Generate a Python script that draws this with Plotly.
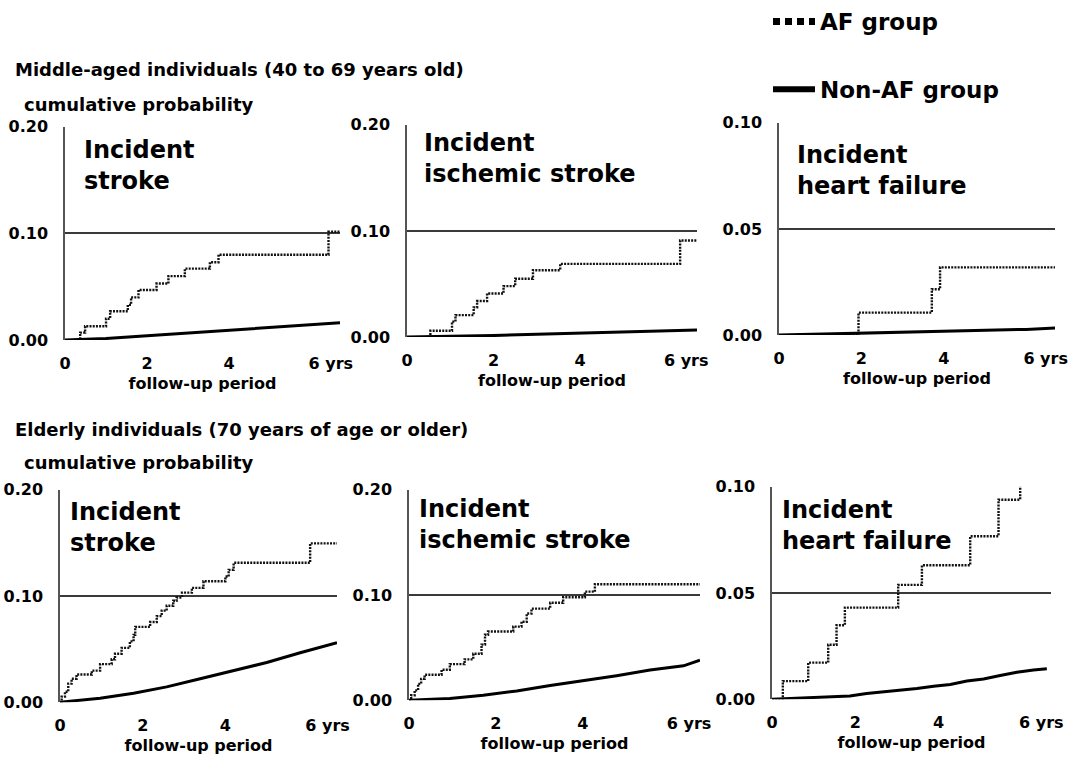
import plotly.graph_objects as go

# ---------------- data ----------------
TIME_MAX = 6.7
x_tick_vals = [0, 2, 4, 6]
# the "6" sits on its tick and the unit hangs to the right of it
x_tick_text = ["0", "2", "4", "\u00a0" * 7 + "6 yrs"]
x_axis_label = "follow-up period"

group_names = ["AF group", "Non-AF group"]
section_titles = ["Middle-aged individuals (40 to 69 years old)",
                  "Elderly individuals (70 years of age or older)"]
y_axis_label = "cumulative probability"
panel_labels = ["Incident<br>stroke", "Incident<br>ischemic stroke", "Incident<br>heart failure",
                "Incident<br>stroke", "Incident<br>ischemic stroke", "Incident<br>heart failure"]
y_tick_sets = [[0, 0.10, 0.20], [0, 0.10, 0.20], [0, 0.05, 0.10],
               [0, 0.10, 0.20], [0, 0.10, 0.20], [0, 0.05, 0.10]]

# Middle-aged, incident stroke
mid_stroke_af_t = [0, 0.37, 0.49, 1.0, 1.10, 1.53, 1.61, 1.79, 2.23, 2.52, 2.92, 3.53, 3.74, 6.42, 6.7]
mid_stroke_af_p = [0, 0.007, 0.013, 0.020, 0.027, 0.033, 0.040, 0.047, 0.053, 0.060, 0.067, 0.073, 0.080, 0.1015, 0.1015]
mid_stroke_non_t = [0, 1, 2, 3, 4, 5, 6, 6.7]
mid_stroke_non_p = [0, 0.0015, 0.004, 0.0065, 0.009, 0.0115, 0.0145, 0.0163]

# Middle-aged, incident ischemic stroke
mid_isch_af_t = [0, 0.54, 1.04, 1.12, 1.54, 1.62, 1.85, 2.23, 2.50, 2.91, 3.54, 6.31, 6.7]
mid_isch_af_p = [0, 0.006, 0.0146, 0.0207, 0.028, 0.034, 0.041, 0.048, 0.055, 0.063, 0.069, 0.091, 0.091]
mid_isch_non_t = [0, 1, 2, 3, 4, 5, 6, 6.7]
mid_isch_non_p = [0, 0.0005, 0.0015, 0.0027, 0.0038, 0.0048, 0.0058, 0.0066]

# Middle-aged, incident heart failure
mid_hf_af_t = [0, 1.93, 3.71, 3.91, 6.7]
mid_hf_af_p = [0, 0.0106, 0.0216, 0.0319, 0.0319]
mid_hf_non_t = [0, 2, 4, 6, 6.7]
mid_hf_non_p = [0, 0.0008, 0.0017, 0.0027, 0.0033]

# Elderly, incident stroke
old_stroke_af_t = [0, 0.04, 0.12, 0.20, 0.28, 0.40, 0.77, 0.97, 1.25, 1.33, 1.49, 1.69, 1.78, 1.82,
                   2.18, 2.34, 2.46, 2.58, 2.74, 2.82, 2.95, 3.19, 3.47, 4.0, 4.08, 4.2, 6.05, 6.7]
old_stroke_af_p = [0, 0.0052, 0.0098, 0.0174, 0.0220, 0.0260, 0.0297, 0.0358, 0.0404, 0.0456, 0.0511,
                   0.0572, 0.0633, 0.0709, 0.0755, 0.0810, 0.0862, 0.0908, 0.0954, 0.0985, 0.1031,
                   0.1076, 0.1138, 0.1183, 0.1245, 0.1312, 0.1495, 0.1495]
old_stroke_non_t = [0, 0.97, 1.78, 2.58, 3.39, 4.2, 5.0, 5.81, 6.7]
old_stroke_non_p = [0, 0.0037, 0.0083, 0.0144, 0.022, 0.0297, 0.0373, 0.0465, 0.056]

# Elderly, incident ischemic stroke
old_isch_af_t = [0, 0.05, 0.13, 0.21, 0.28, 0.36, 0.75, 0.94, 1.28, 1.48, 1.67, 1.75, 1.82, 2.40,
                 2.59, 2.71, 2.82, 3.25, 3.55, 4.05, 4.28, 6.7]
old_isch_af_p = [0, 0.0047, 0.0093, 0.0155, 0.0202, 0.0242, 0.0289, 0.0342, 0.0388, 0.0441, 0.0528,
                 0.0621, 0.0652, 0.0699, 0.0745, 0.0823, 0.0870, 0.0925, 0.0978, 0.1031, 0.1102, 0.1102]
old_isch_non_t = [0, 0.94, 1.71, 2.48, 3.25, 4.02, 4.78, 5.55, 6.32, 6.7]
old_isch_non_p = [0, 0.0016, 0.0047, 0.0087, 0.014, 0.0186, 0.0233, 0.0286, 0.0326, 0.038]

# Elderly, incident heart failure
old_hf_af_t = [0, 0.26, 0.87, 1.35, 1.55, 1.75, 3.03, 3.60, 4.76, 5.44, 5.96]
old_hf_af_p = [0, 0.0085, 0.0172, 0.0256, 0.0348, 0.0431, 0.0538, 0.063, 0.0767, 0.0939, 0.102]
old_hf_non_t = [0, 0.67, 1.47, 1.87, 2.27, 3.07, 3.48, 3.88, 4.28, 4.68, 5.08, 5.48, 5.88, 6.28, 6.6]
old_hf_non_p = [0, 0.0005, 0.0009, 0.0015, 0.0027, 0.004, 0.005, 0.0061, 0.0069, 0.0085, 0.0095,
                0.0111, 0.0127, 0.0137, 0.0143]

panels_af = [(mid_stroke_af_t, mid_stroke_af_p), (mid_isch_af_t, mid_isch_af_p), (mid_hf_af_t, mid_hf_af_p),
             (old_stroke_af_t, old_stroke_af_p), (old_isch_af_t, old_isch_af_p), (old_hf_af_t, old_hf_af_p)]
panels_non = [(mid_stroke_non_t, mid_stroke_non_p), (mid_isch_non_t, mid_isch_non_p), (mid_hf_non_t, mid_hf_non_p),
              (old_stroke_non_t, old_stroke_non_p), (old_isch_non_t, old_isch_non_p), (old_hf_non_t, old_hf_non_p)]

# ---------------- layout (pixel geometry) ----------------
W, H = 1068, 759
FONT = "DejaVu Sans"
# (left, right, top, bottom) in pixels of each plot area
panel_px = [(65, 340, 125, 339), (407, 697, 123, 336), (779, 1055, 121, 334),
            (60, 337, 489, 702), (409, 700, 489, 700), (772, 1051, 486, 699)]
label_px = [(82, 164), (422, 157), (795, 169), (68, 527), (417, 524), (780, 525)]


def fx(p):
    return p / W


def fy(p):
    return 1 - p / H


fig = go.Figure()
layout_axes = {}
for i in range(6):
    n = "" if i == 0 else str(i + 1)
    xa, ya = "x" + n, "y" + n
    t_af, p_af = panels_af[i]
    t_non, p_non = panels_non[i]
    fig.add_trace(go.Scatter(x=t_af, y=p_af, xaxis=xa, yaxis=ya, mode="lines", line_shape="hv",
                             line=dict(color="#111111", width=2.4, dash="2px,1.2px"),
                             name=group_names[0], showlegend=False, hoverinfo="skip"))
    fig.add_trace(go.Scatter(x=t_non, y=p_non, xaxis=xa, yaxis=ya, mode="lines",
                             line=dict(color="black", width=3),
                             name=group_names[1], showlegend=False, hoverinfo="skip"))
    l, r, t, b = panel_px[i]
    yt = y_tick_sets[i]
    layout_axes["xaxis" + n] = dict(
        domain=[fx(l), fx(r)], range=[0, TIME_MAX], anchor=ya,
        tickvals=x_tick_vals, ticktext=x_tick_text, showgrid=False, zeroline=False,
        showline=False, ticks="", ticklabelstandoff=12, automargin=False,
        tickfont=dict(family=FONT, size=16, color="black", weight="bold"),
        title=dict(text=x_axis_label, standoff=5,
                   font=dict(family=FONT, size=16, color="black", weight="bold")),
        fixedrange=True)
    layout_axes["yaxis" + n] = dict(
        domain=[fy(b), fy(t)], range=[0, yt[-1]], anchor=xa,
        tickvals=yt, tickformat=".2f", showgrid=True, gridcolor="#3a3a3a", gridwidth=1.5,
        zeroline=False, showline=True, linecolor="#555555", linewidth=1.5,
        ticks="", ticklabelstandoff=12, automargin=False,
        tickfont=dict(family=FONT, size=16, color="black", weight="bold"),
        fixedrange=True)

# legend-only traces
fig.add_trace(go.Scatter(x=[None], y=[None], mode="lines", name=group_names[0], legendgroup="af",
                         line=dict(color="black", width=7, dash="7px,5px")))
fig.add_trace(go.Scatter(x=[None], y=[None], mode="lines", name=group_names[1], legendgroup="non",
                         line=dict(color="black", width=6)))

annotations = []
for i in range(6):
    x0, yc = label_px[i]
    annotations.append(dict(text=panel_labels[i], xref="paper", yref="paper", x=fx(x0), y=fy(yc),
                            xanchor="left", yanchor="middle", align="left", showarrow=False,
                            font=dict(family=FONT, size=24, color="black", weight="bold")))
for j, (ty, cy) in enumerate([(68, 103), (429, 462)]):
    annotations.append(dict(text=section_titles[j], xref="paper", yref="paper", x=fx(13), y=fy(ty),
                            xanchor="left", yanchor="middle", showarrow=False,
                            font=dict(family=FONT, size=18, color="black", weight="bold")))
    annotations.append(dict(text=y_axis_label, xref="paper", yref="paper", x=fx(22), y=fy(cy),
                            xanchor="left", yanchor="middle", showarrow=False,
                            font=dict(family=FONT, size=18, color="black", weight="bold")))

fig.update_layout(
    width=W, height=H, margin=dict(l=0, r=0, t=0, b=0),
    paper_bgcolor="white", plot_bgcolor="white",
    showlegend=True,
    legend=dict(x=fx(768), y=fy(-2), xanchor="left", yanchor="top", bgcolor="rgba(0,0,0,0)",
                font=dict(family=FONT, size=23, color="black", weight="bold"),
                traceorder="grouped", tracegroupgap=35, itemwidth=42),
    annotations=annotations,
    **layout_axes,
)

fig.write_html("out.html", config={"displayModeBar": False},
               post_script="document.body.style.margin='0';")
